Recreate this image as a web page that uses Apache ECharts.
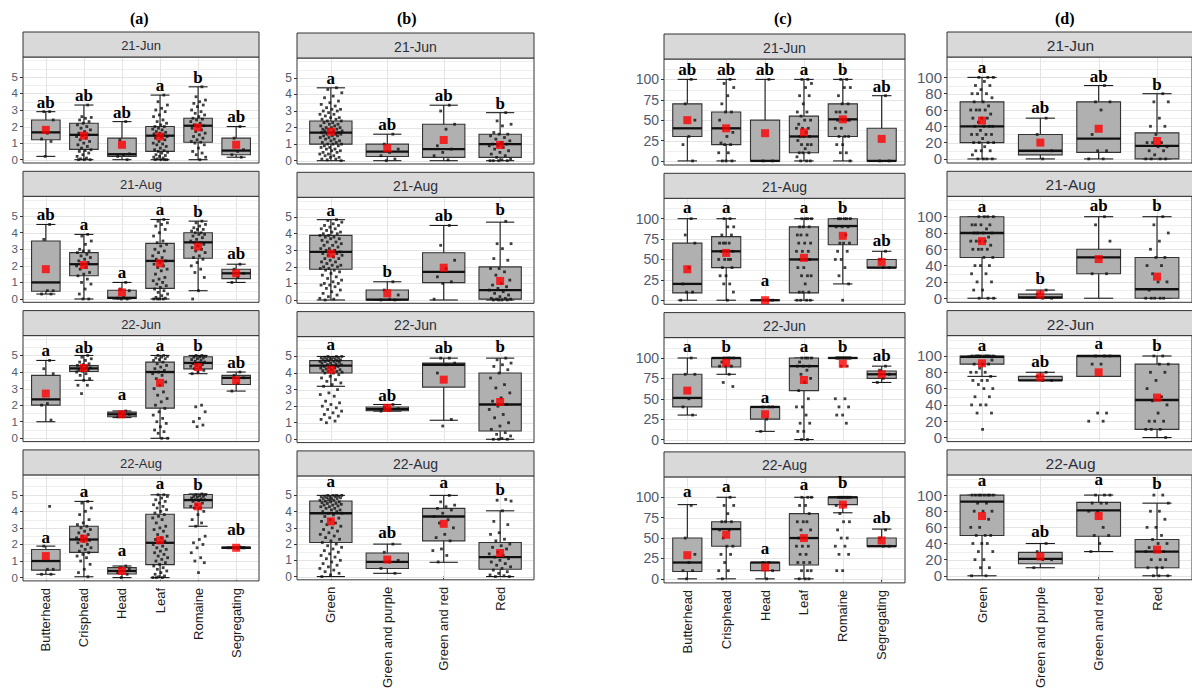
<!DOCTYPE html>
<html>
<head>
<meta charset="utf-8">
<script src="https://cdn.jsdelivr.net/npm/echarts@6/dist/echarts.min.js"></script>
<style>
html,body{margin:0;padding:0;background:#fff}
#chart{width:1192px;height:691px}
</style>
</head>
<body>
<div id="chart"></div>
<script>
// ---- categories and tick labels ----
const dates = ['21-Jun', '21-Aug', '22-Jun', '22-Aug'];
const typeCats = ['Butterhead', 'Crisphead', 'Head', 'Leaf', 'Romaine', 'Segregating'];
const colourCats = ['Green', 'Green and purple', 'Green and red', 'Red'];
const ticksScore = [0, 1, 2, 3, 4, 5];
const ticksPctC = [0, 25, 50, 75, 100];
const ticksPctD = [0, 20, 40, 60, 80, 100];
const minorScore = [0.5, 1.5, 2.5, 3.5, 4.5, 5.5, 6];
const minorPctC = [12.5, 37.5, 62.5, 87.5, 112.5];
const minorPctD = [10, 30, 50, 70, 90, 110, 120];

// ---- (a) score by lettuce type: per date, per type [low whisker, Q1, median, Q3, high whisker] ----
const aBox = [
  [[0.2,1.2,1.65,2.4,2.9],[0,0.62,1.5,2.2,3.3],[0,0.2,0.33,1.3,2.3],[0,0.5,1.45,2.0,3.9],[0,1.05,2.05,2.5,4.4],[0.15,0.3,0.55,1.3,2.0]],
  [[0.3,0.47,1.0,3.5,4.5],[0,1.4,2.1,2.8,3.9],[0,0.03,0.07,0.53,1.0],[0,0.64,2.3,3.36,4.8],[0.5,2.46,3.42,4.0,4.7],[1.0,1.23,1.55,1.8,2.1]],
  [[1.0,2.0,2.35,3.8,4.7],[3.5,4.03,4.22,4.39,5.0],[1.25,1.3,1.45,1.58,1.65],[0,1.82,4.0,4.6,5.0],[3.9,4.19,4.55,4.92,5.0],[2.85,3.25,3.65,3.8,4.0]],
  [[0.2,0.45,1.0,1.7,1.9],[0.05,1.52,2.3,3.1,4.6],[0,0.22,0.4,0.6,0.7],[0,0.78,2.1,3.82,5.0],[3.1,4.2,4.68,5.02,5.05],[1.75,1.76,1.8,1.84,1.85]]
];
const aMean = [
  [1.8,1.45,0.9,1.4,1.95,0.9],
  [1.8,2.05,0.4,2.15,3.16,1.55],
  [2.7,4.25,1.45,3.35,4.3,3.5],
  [1.3,2.35,0.4,2.25,4.3,1.8]
];
const aLetter = [
  ['ab','ab','ab','a','b','ab'],
  ['ab','a','a','a','b','ab'],
  ['a','ab','a','a','b','ab'],
  ['a','a','a','a','b','ab']
];
const aLetterY = [
  [2.9,3.3,2.3,3.9,4.4,2.05],
  [4.5,3.9,1.05,4.8,4.7,2.2],
  [4.7,4.9,2.05,5.05,5.0,4.0],
  [1.85,4.6,1.05,5.1,5.05,2.3]
];
const aPoints = [
  [
    [2.9,2.9,2.4,1.6,1.25,1.1,0.2],
    [3.3,2.6,2.55,2.5,2.4,2.3,2.2,2.1,2.0,1.9,1.8,1.7,1.6,1.5,1.45,1.4,1.3,1.2,1.1,1.0,0.9,0.8,0.7,0.6,0.55,0.5,0.4,0.3,0.2,0.1,0.05,0,0,0],
    [2.3,1.2,0.35,0.3,0.2,0],
    [3.9,3.5,3.3,3.1,3.0,2.9,2.7,2.6,2.4,2.3,2.2,2.1,2.0,2.0,1.9,1.85,1.8,1.7,1.65,1.6,1.55,1.5,1.45,1.4,1.35,1.3,1.2,1.1,1.0,0.95,0.9,0.8,0.7,0.6,0.55,0.5,0.45,0.4,0.3,0.25,0.2,0.15,0.1,0.05,0,0,0,0],
    [4.4,3.8,3.6,3.5,3.4,3.3,3.2,3.0,2.9,2.8,2.7,2.6,2.5,2.45,2.4,2.3,2.2,2.1,2.05,2.0,1.9,1.8,1.7,1.6,1.5,1.4,1.3,1.2,1.1,1.05,1.0,0.9,0.7,0.5,0.4,0.3,0.15,0],
    [2.0,1.3,0.6,0.5,0.3,0.15]
  ],
  [
    [4.5,3.6,0.5,0.5,0.3,0.3],
    [3.9,3.8,3.5,3.3,3.0,2.9,2.9,2.8,2.7,2.6,2.5,2.4,2.3,2.2,2.1,2.0,1.9,1.8,1.6,1.5,1.4,1.2,1.0,0.9,0.6,0.3,0,0],
    [1.0,0.6,0.5,0.1,0.05,0,0],
    [4.8,4.7,4.6,4.5,4.4,4.2,4.0,3.8,3.5,3.4,3.3,3.2,3.0,2.9,2.8,2.6,2.5,2.4,2.3,2.2,2.1,2.0,1.9,1.8,1.7,1.5,1.3,1.2,1.1,1.0,0.9,0.8,0.7,0.6,0.5,0.4,0.3,0.2,0.1,0.05,0,0,0,0],
    [4.7,4.6,4.5,4.4,4.3,4.2,4.2,4.1,4.0,4.0,3.9,3.9,3.8,3.7,3.6,3.5,3.4,3.4,3.3,3.2,3.1,3.0,2.9,2.8,2.6,2.5,2.4,2.2,2.0,1.8,1.6,1.3,0.5,0],
    [2.1,1.8,1.55,1.3,1.0]
  ],
  [
    [4.7,4.2,3.9,2.1,2.0,1.1],
    [5.0,4.9,4.8,4.7,4.6,4.5,4.45,4.4,4.35,4.3,4.25,4.2,4.15,4.1,4.05,4.0,3.9,3.8,3.6,3.5,3.2,3.2,2.7],
    [1.65,1.5,1.45,1.35,1.3],
    [5.0,5.0,4.95,4.9,4.85,4.8,4.75,4.7,4.6,4.5,4.4,4.3,4.2,4.1,4.0,3.9,3.8,3.6,3.4,3.2,3.0,2.8,2.6,2.4,2.2,2.0,1.8,1.6,1.4,1.2,1.0,0.9,0.7,0.5,0.4,0.3,0,0],
    [5.0,5.0,4.95,4.9,4.9,4.85,4.8,4.75,4.7,4.65,4.6,4.55,4.5,4.45,4.4,4.35,4.3,4.2,4.1,4.0,3.9,2.0,1.9,1.6,1.2,1.0,0.8,0.7],
    [4.0,3.8,3.65,3.3,2.85]
  ],
  [
    [4.3,1.9,0.5,0.5,0.2,0.2],
    [4.6,4.5,4.2,4.0,3.8,3.5,3.3,3.2,3.1,3.0,2.9,2.8,2.7,2.6,2.5,2.4,2.35,2.3,2.25,2.2,2.1,2.0,1.9,1.8,1.7,1.6,1.5,1.4,1.3,1.2,1.0,0.8,0.5,0.3,0.05],
    [0.7,0.6,0.5,0.4,0.3,0.2,0.0],
    [5.0,5.0,4.9,4.8,4.7,4.6,4.5,4.4,4.3,4.2,4.1,4.0,3.9,3.8,3.7,3.6,3.5,3.3,3.1,3.0,2.9,2.8,2.6,2.5,2.4,2.3,2.2,2.1,2.0,1.9,1.8,1.7,1.6,1.5,1.4,1.3,1.2,1.1,1.0,0.9,0.8,0.7,0.6,0.5,0.4,0.3,0.2,0.1,0.05,0,0,0],
    [5.05,5.0,5.0,4.95,4.9,4.9,4.85,4.8,4.75,4.7,4.7,4.65,4.6,4.5,4.4,4.3,4.2,4.2,4.0,3.8,3.5,3.3,3.1,2.5,2.3,2.1,2.0,1.8,1.5,1.2,1.0,0.9,0.3],
    [1.85,1.8,1.8,1.75]
  ]
];

// ---- (b) score by leaf colour ----
const bBox = [
  [[0,1.0,1.7,2.4,4.4],[0,0.25,0.55,1.0,1.6],[0,0.2,0.7,2.2,3.35],[0,0.2,1.0,1.6,2.9]],
  [[0,1.86,2.9,3.9,4.85],[0,0,0.02,0.6,1.1],[0,1.05,1.7,2.85,4.5],[0,0.05,0.6,2.0,4.7]],
  [[3.2,4.0,4.45,4.75,5.0],[1.7,1.72,1.82,1.95,2.1],[1.15,3.15,4.5,4.6,4.9],[0,0.5,2.1,4.0,4.9]],
  [[0,2.1,3.9,4.65,5.0],[0.2,0.5,0.9,1.45,2.0],[0.88,2.2,3.7,4.2,5.0],[0,0.45,1.2,2.1,4.05]]
];
const bMean = [
  [1.75,0.75,1.25,0.95],
  [2.8,0.4,1.95,1.15],
  [4.2,1.9,3.6,2.25],
  [3.4,1.05,3.25,1.45]
];
const bLetter = [
  ['a','ab','ab','b'],
  ['a','b','ab','b'],
  ['a','ab','ab','b'],
  ['a','ab','a','b']
];
const bLetterY = [
  [4.4,1.6,3.35,2.9],
  [4.85,1.15,4.5,4.9],
  [5.15,2.1,4.95,5.0],
  [5.25,2.1,5.2,4.8]
];
const bPoints = [
  [
    [4.4,4.3,4.1,3.9,3.8,3.6,3.5,3.4,3.3,3.2,3.1,3.1,3.0,3.0,2.9,2.8,2.8,2.7,2.6,2.6,2.5,2.5,2.4,2.4,2.3,2.3,2.2,2.2,2.1,2.1,2.0,2.0,2.0,1.9,1.9,1.9,1.8,1.8,1.8,1.7,1.7,1.7,1.6,1.6,1.6,1.5,1.5,1.5,1.4,1.4,1.3,1.3,1.2,1.2,1.1,1.1,1.0,1.0,1.0,0.9,0.9,0.8,0.8,0.7,0.7,0.6,0.6,0.5,0.5,0.4,0.4,0.3,0.3,0.2,0.2,0.1,0.1,0.05,0],
    [1.6,1.0,0.7,0.5,0.3,0.1,0],
    [3.35,3.0,2.2,1.9,0.9,0.7,0.5,0.3,0.05],
    [2.9,2.4,2.2,2.1,1.7,1.6,1.6,1.5,1.4,1.3,1.2,1.1,1.0,1.0,0.9,0.9,0.8,0.7,0.6,0.5,0.4,0.3,0.2,0.1,0.05,0,0,0,0]
  ],
  [
    [4.85,4.8,4.7,4.6,4.5,4.5,4.4,4.3,4.3,4.2,4.1,4.1,4.0,4.0,3.9,3.9,3.8,3.8,3.7,3.7,3.6,3.5,3.5,3.4,3.3,3.3,3.2,3.1,3.1,3.0,3.0,2.9,2.9,2.8,2.8,2.7,2.7,2.6,2.5,2.5,2.4,2.3,2.3,2.2,2.1,2.1,2.0,2.0,1.9,1.9,1.8,1.8,1.7,1.6,1.5,1.4,1.3,1.2,1.1,1.0,1.0,0.9,0.9,0.8,0.7,0.6,0.5,0.4,0.3,0.2,0.1,0.05,0],
    [1.1,0.6,0.3,0.05,0,0],
    [4.5,3.3,2.4,1.9,1.4,1.1,1.0,0.05],
    [4.75,3.4,3.4,3.1,2.5,2.4,1.9,1.9,1.7,1.5,1.2,1.0,0.9,0.8,0.7,0.6,0.5,0.4,0.3,0.2,0.1,0.1,0.05,0.05,0,0,0,0]
  ],
  [
    [5.0,5.0,5.0,4.95,4.95,4.9,4.9,4.9,4.85,4.85,4.8,4.8,4.8,4.75,4.75,4.7,4.7,4.7,4.65,4.6,4.6,4.55,4.5,4.5,4.45,4.4,4.4,4.35,4.3,4.3,4.25,4.2,4.2,4.15,4.1,4.1,4.05,4.0,4.0,3.9,3.8,3.7,3.6,3.5,3.4,3.3,3.2,3.0,2.8,2.7,2.6,2.3,2.2,2.1,2.0,1.9,1.8,1.7,1.6,1.5,1.4,1.3,1.2,1.1,1.0],
    [2.1,1.95,1.85,1.75,1.7],
    [4.9,4.9,4.6,4.5,4.0,1.2,0.8],
    [4.9,4.8,4.6,4.5,4.4,4.2,4.0,3.7,3.3,3.1,2.8,2.5,2.3,2.1,2.0,1.8,1.5,1.3,1.0,0.8,0.6,0.4,0.3,0.2,0.05,0,0,0]
  ],
  [
    [5.0,5.0,5.0,5.0,4.95,4.95,4.9,4.9,4.9,4.85,4.85,4.8,4.8,4.8,4.75,4.7,4.7,4.65,4.6,4.6,4.55,4.5,4.5,4.45,4.4,4.4,4.35,4.3,4.3,4.2,4.2,4.1,4.1,4.0,4.0,3.9,3.9,3.8,3.7,3.6,3.5,3.4,3.3,3.2,3.1,3.0,2.9,2.8,2.7,2.6,2.5,2.4,2.3,2.2,2.1,2.0,1.9,1.8,1.7,1.6,1.5,1.4,1.3,1.2,1.1,1.0,0.9,0.8,0.7,0.6,0.5,0.4,0.3,0.2,0.1,0],
    [2.0,1.5,1.0,0.9,0.5,0.2],
    [5.0,4.6,4.4,4.3,4.2,4.1,3.9,3.7,3.5,3.3,3.0,2.6,2.4,2.2,1.7,1.6,1.3,0.9],
    [4.75,4.7,4.65,4.05,3.4,3.2,2.7,2.6,2.3,2.2,2.0,1.9,1.8,1.7,1.5,1.4,1.3,1.2,1.1,1.0,0.9,0.8,0.7,0.6,0.5,0.4,0.3,0.2,0.1,0.05,0,0]
  ]
];

// ---- (c) percentage by lettuce type ----
const cBox = [
  [[0,30,40,70,100],[0,20,40,60,100],[0,0,0,50,100],[0,10,30,55,100],[0,30,51,70,100],[0,0,0,40,80]],
  [[0,9,20,70,100],[0,40,60,78,100],[0,0,0,0,0],[0,9,50,90,100],[20,68,91,100,100],[40,40,40,50,60]],
  [[30,40,51,80,100],[80,89,100,100,100],[10,25,40,40,40],[0,60,90,100,100],[100,100,100,100,100],[70,75,80,84,90]],
  [[0,9,20,50,91],[0,40,61,70,100],[0,10,20,20,20],[0,17,50,80,100],[81,91,100,100,100],[40,40,40,50,61]]
];
const cMean = [
  [50,40,34,35,51,27],
  [38,58,0,52,79,47],
  [60,94,31,73,93,80],
  [29,54,14,50,91,47]
];
const cLetter = [
  ['ab','ab','ab','a','b','ab'],
  ['a','a','a','a','b','ab'],
  ['a','b','a','a','b','ab'],
  ['a','a','a','a','b','ab']
];
const cLetterY = [
  [100,100,100,100,100,80],
  [102,102,13,102,102,62],
  [102,102,40,102,102,92],
  [95,101,26,104,106,64]
];
const cPoints = [
  [
    [100,70,50,30,20,0],
    [100,95,90,80,70,60,60,50,40,40,35,30,22,20,20,10,10,0,0,0],
    [100,0,0],
    [100,100,95,90,80,80,70,60,60,55,50,50,45,40,40,40,35,30,30,30,25,20,20,20,15,10,10,10,5,0,0,0],
    [100,100,90,90,80,70,70,60,60,60,50,50,50,50,40,40,30,30,30,20,20,10,10,0],
    [80,0,0]
  ],
  [
    [100,80,70,40,20,10,10,0],
    [100,100,90,90,80,80,70,70,70,70,60,60,60,50,50,50,50,40,40,30,30,20,20,10,0],
    [0,0,0,0],
    [100,100,100,100,90,90,90,80,80,80,70,70,70,60,60,60,50,50,50,40,40,30,30,30,20,10,10,10,0,0,0,0],
    [100,100,100,100,100,90,90,90,80,70,70,70,60,60,50,50,40,30,20,0],
    [60,50,40,40]
  ],
  [
    [100,80,80,50,40,30],
    [100,100,100,100,95,90,90,90,80,70,65],
    [40,40,40,25,10],
    [100,100,100,100,95,90,90,90,85,80,75,70,60,50,40,40,30,20,20,10,10,0,0],
    [100,100,100,100,100,100,100,100,100,100,100,100,100,90,90,50,50,40,40,30,30,20],
    [90,85,80,75,70]
  ],
  [
    [90,50,30,20,10,10,0],
    [100,90,90,80,70,70,70,60,60,50,40,40,30,30,20,10,10,0],
    [20,20,10,0],
    [100,100,100,90,90,80,70,70,70,60,60,50,50,40,40,40,30,30,20,20,20,10,10,10,0,0,0],
    [100,100,100,100,100,100,100,90,90,80,70,70,60,50,50,40,40,30,30,10,10],
    [60,50,40,40]
  ]
];

// ---- (d) percentage by leaf colour ----
const dBox = [
  [[0,20,40,70,100],[0,5,10,30,50],[0,8,25,70,90],[0,0,16,32,80]],
  [[0,50,80,100,100],[0,0,1,5,10],[0,30,50,60,100],[0,0,11,50,100]],
  [[75,90,99,100,100],[70,70,70,75,80],[75,75,100,100,100],[0,10,46,90,100]],
  [[0,50,92,100,100],[10,15,21,29,40],[30,49,81,91,100],[0,10,30,45,90]]
];
const dMean = [
  [47,20,37,22],
  [70,4.5,48,26.5],
  [91,74,80,49],
  [74,24,74,32.5]
];
const dLetter = [
  ['a','ab','ab','b'],
  ['a','b','ab','b'],
  ['a','ab','a','b'],
  ['a','ab','a','b']
];
const dLetterY = [
  [100,52,90,80],
  [101,13,102,102],
  [101,82,104,101],
  [106,43,107,102]
];
const dPoints = [
  [
    [100,100,100,95,90,90,85,80,80,80,75,70,70,65,60,60,60,60,55,50,50,50,45,40,40,40,40,35,30,30,30,30,25,20,20,20,20,15,10,10,10,5,0,0,0,0],
    [50,30,10,0],
    [90,70,70,60,30,10,10,0,0],
    [80,70,70,50,40,40,30,20,20,20,15,15,10,10,5,0,0,0,0]
  ],
  [
    [100,100,100,100,90,90,90,90,85,80,80,80,80,75,70,70,70,70,65,60,60,60,60,50,50,40,40,40,30,30,20,20,10,10,0,0,0],
    [10,5,0,0],
    [100,90,70,50,30,30],
    [100,90,80,70,60,50,50,40,40,30,20,20,10,0,0,0,0,0]
  ],
  [
    [100,100,100,100,100,100,100,100,100,100,95,90,90,90,85,80,80,80,75,70,70,70,65,60,60,50,50,40,40,40,30,30,10],
    [80,75,70,70],
    [100,100,100,90,90,30,30,20,20],
    [100,100,90,90,80,80,70,60,50,45,40,30,20,20,20,10,10,10,0]
  ],
  [
    [100,100,100,100,100,100,100,100,90,90,80,80,80,70,60,60,50,50,50,40,40,40,30,30,20,20,10,10,0,0],
    [40,30,20,20,10],
    [100,100,100,90,90,90,80,80,60,50,50,40,30],
    [100,100,90,80,80,70,60,60,50,45,40,40,35,30,30,30,20,20,20,10,10,10,0,0,0]
  ]
];

// ---- panel setup ----
const panels = [
  { title: '(a)', cats: typeCats, box: aBox, mean: aMean, letter: aLetter, letterY: aLetterY, pts: aPoints,
    ticks: ticksScore, minor: minorScore, yMin: -0.2, yMax: 6.2,
    left: 23, width: 236, top: 32, titleX: 142, stripFont: 13, yFont: 11.5 },
  { title: '(b)', cats: colourCats, box: bBox, mean: bMean, letter: bLetter, letterY: bLetterY, pts: bPoints,
    ticks: ticksScore, minor: minorScore, yMin: -0.2, yMax: 6.2,
    left: 297, width: 237, top: 33, titleX: 409, stripFont: 14, yFont: 12 },
  { title: '(c)', cats: typeCats, box: cBox, mean: cMean, letter: cLetter, letterY: cLetterY, pts: cPoints,
    ticks: ticksPctC, minor: minorPctC, yMin: -5, yMax: 125,
    left: 664, width: 241, top: 34, titleX: 786, stripFont: 14, yFont: 14 },
  { title: '(d)', cats: colourCats, box: dBox, mean: dMean, letter: dLetter, letterY: dLetterY, pts: dPoints,
    ticks: ticksPctD, minor: minorPctD, yMin: -5, yMax: 125,
    left: 947, width: 247, top: 32, titleX: 1067, stripFont: 15.5, yFont: 15 }
];
const FACET_STEP = 139.3, STRIP_H = 25, PLOT_H = 106;
const SANS = '"Liberation Sans", Arial, sans-serif';
const SERIF = '"Liberation Serif", "Times New Roman", serif';

// sideways offset for the i-th point of a group, keeping dots inside a narrow band
function spread(i) {
  return (((i + 1) * 0.6180339887 + 0.13) % 1 - 0.5) * 0.4;
}

const grids = [], xAxes = [], yAxes = [], series = [], graphics = [];

panels.forEach((p, pi) => {
  const n = p.cats.length;
  const catIdx = p.cats.map((_, i) => i + 1);
  graphics.push({
    type: 'text', left: p.titleX - 12, top: 10,
    style: { text: p.title, font: 'bold 16px ' + SERIF, fill: '#000' }
  });
  dates.forEach((date, di) => {
    const g = pi * 4 + di;
    const stripTop = p.top + di * FACET_STEP;
    const plotTop = stripTop + STRIP_H;
    const last = di === dates.length - 1;

    grids.push({
      left: p.left, top: plotTop, width: p.width, height: PLOT_H,
      show: true, backgroundColor: '#fff', borderColor: '#333', borderWidth: 1, containLabel: false
    });
    graphics.push({
      type: 'rect', shape: { x: p.left, y: stripTop, width: p.width, height: STRIP_H },
      style: { fill: '#d9d9d9', stroke: '#333', lineWidth: 1 }, z: 10
    });
    graphics.push({
      type: 'text', x: p.left + p.width / 2, y: stripTop + STRIP_H / 2 + 1,
      style: { text: date, font: p.stripFont + 'px ' + SANS, fill: '#2b2f3a', align: 'center', verticalAlign: 'middle' }, z: 11
    });

    xAxes.push({
      type: 'value', gridIndex: g, min: 0.4, max: n + 0.6,
      axisLine: { show: false }, splitLine: { show: false },
      axisTick: { show: last, customValues: catIdx, length: 3, lineStyle: { color: '#333' } },
      axisLabel: {
        show: last, customValues: catIdx, rotate: 90, margin: 7,
        fontSize: 13, fontFamily: SANS, color: '#1a1a1a',
        formatter: v => p.cats[Math.round(v) - 1]
      }
    });
    yAxes.push({
      type: 'value', gridIndex: g, min: p.yMin, max: p.yMax,
      axisLine: { show: false }, splitLine: { show: false },
      axisTick: { show: true, customValues: p.ticks, length: 3, lineStyle: { color: '#333' } },
      axisLabel: { customValues: p.ticks, margin: 5, fontSize: p.yFont, fontFamily: SANS, color: '#505a6e' }
    });

    // panel grid lines
    const lines = [];
    p.ticks.forEach(v => lines.push(['h', v, 1]));
    p.minor.forEach(v => lines.push(['h', v, 0]));
    catIdx.forEach(c => lines.push(['v', c, 1]));
    series.push({
      type: 'custom', xAxisIndex: g, yAxisIndex: g, silent: true, z: 1, animation: false, clip: false,
      data: lines.map(l => [l[1], l[2]]),
      renderItem: (params, api) => {
        const cs = params.coordSys;
        const item = lines[params.dataIndex];
        const v = item[1];
        const stroke = item[2] ? '#e4e4e4' : '#efefef';
        if (item[0] === 'h') {
          const y = Math.round(api.coord([1, v])[1]) + 0.5;
          return { type: 'line', shape: { x1: cs.x + 1, y1: y, x2: cs.x + cs.width - 1, y2: y },
                   style: { stroke, lineWidth: 1 } };
        }
        const x = Math.round(api.coord([v, 0])[0]) + 0.5;
        return { type: 'line', shape: { x1: x, y1: cs.y + 1, x2: x, y2: cs.y + cs.height - 1 },
                 style: { stroke: '#e4e4e4', lineWidth: 1 } };
      }
    });

    // boxes with capped whiskers
    series.push({
      type: 'custom', xAxisIndex: g, yAxisIndex: g, silent: true, z: 2, animation: false, clip: false,
      data: p.box[di].map((b, i) => [i + 1].concat(b)),
      renderItem: (params, api) => {
        const c = api.value(0);
        const x = api.coord([c, 0])[0];
        const yLo = api.coord([c, api.value(1)])[1];
        const yQ1 = api.coord([c, api.value(2)])[1];
        const yMd = api.coord([c, api.value(3)])[1];
        const yQ3 = api.coord([c, api.value(4)])[1];
        const yHi = api.coord([c, api.value(5)])[1];
        const bw = api.size([0.75, 0])[0] / 2;
        const cw = api.size([0.5, 0])[0] / 2;
        const ink = { stroke: '#1a1a1a', lineWidth: 1.1 };
        return {
          type: 'group', children: [
            { type: 'line', shape: { x1: x, y1: yLo, x2: x, y2: yHi }, style: ink },
            { type: 'line', shape: { x1: x - cw, y1: yLo, x2: x + cw, y2: yLo }, style: ink },
            { type: 'line', shape: { x1: x - cw, y1: yHi, x2: x + cw, y2: yHi }, style: ink },
            { type: 'rect', shape: { x: x - bw, y: yQ3, width: bw * 2, height: Math.max(yQ1 - yQ3, 0.01) },
              style: { fill: '#b0b0b0', stroke: '#333', lineWidth: 1.1 } },
            { type: 'line', shape: { x1: x - bw, y1: yMd, x2: x + bw, y2: yMd },
              style: { stroke: '#111', lineWidth: 2.3 } }
          ]
        };
      }
    });

    // individual observations
    const dots = [];
    p.pts[di].forEach((vals, ci) => {
      vals.forEach((v, k) => dots.push([ci + 1 + spread(k), v]));
    });
    series.push({
      type: 'scatter', xAxisIndex: g, yAxisIndex: g, silent: true, z: 3, animation: false, clip: false,
      symbol: 'rect', symbolSize: 2.8, itemStyle: { color: '#111' }, data: dots
    });

    // group means
    series.push({
      type: 'scatter', xAxisIndex: g, yAxisIndex: g, silent: true, z: 4, animation: false, clip: false,
      symbol: 'rect', symbolSize: 8, itemStyle: { color: '#ff0000' },
      data: p.mean[di].map((m, i) => [i + 1, m])
    });
  });
});

const chart = echarts.init(document.getElementById('chart'), null, { renderer: 'svg' });
chart.setOption({
  backgroundColor: '#fff',
  animation: false,
  grid: grids,
  xAxis: xAxes,
  yAxis: yAxes,
  series: series,
  graphic: graphics
});

// significance letters: placed through each facet's axes, just above the group's anchor value
const letterGraphics = [];
panels.forEach((p, pi) => {
  dates.forEach((date, di) => {
    const g = pi * 4 + di;
    p.letterY[di].forEach((v, i) => {
      const pt = chart.convertToPixel({ gridIndex: g }, [i + 1, v]);
      letterGraphics.push({
        type: 'text', x: pt[0], y: pt[1] - 1, z: 100, silent: true,
        style: {
          text: p.letter[di][i], fill: '#000',
          font: 'bold 17px ' + SERIF, align: 'center', verticalAlign: 'bottom'
        }
      });
    });
  });
});
chart.setOption({ graphic: graphics.concat(letterGraphics) });
</script>
</body>
</html>
